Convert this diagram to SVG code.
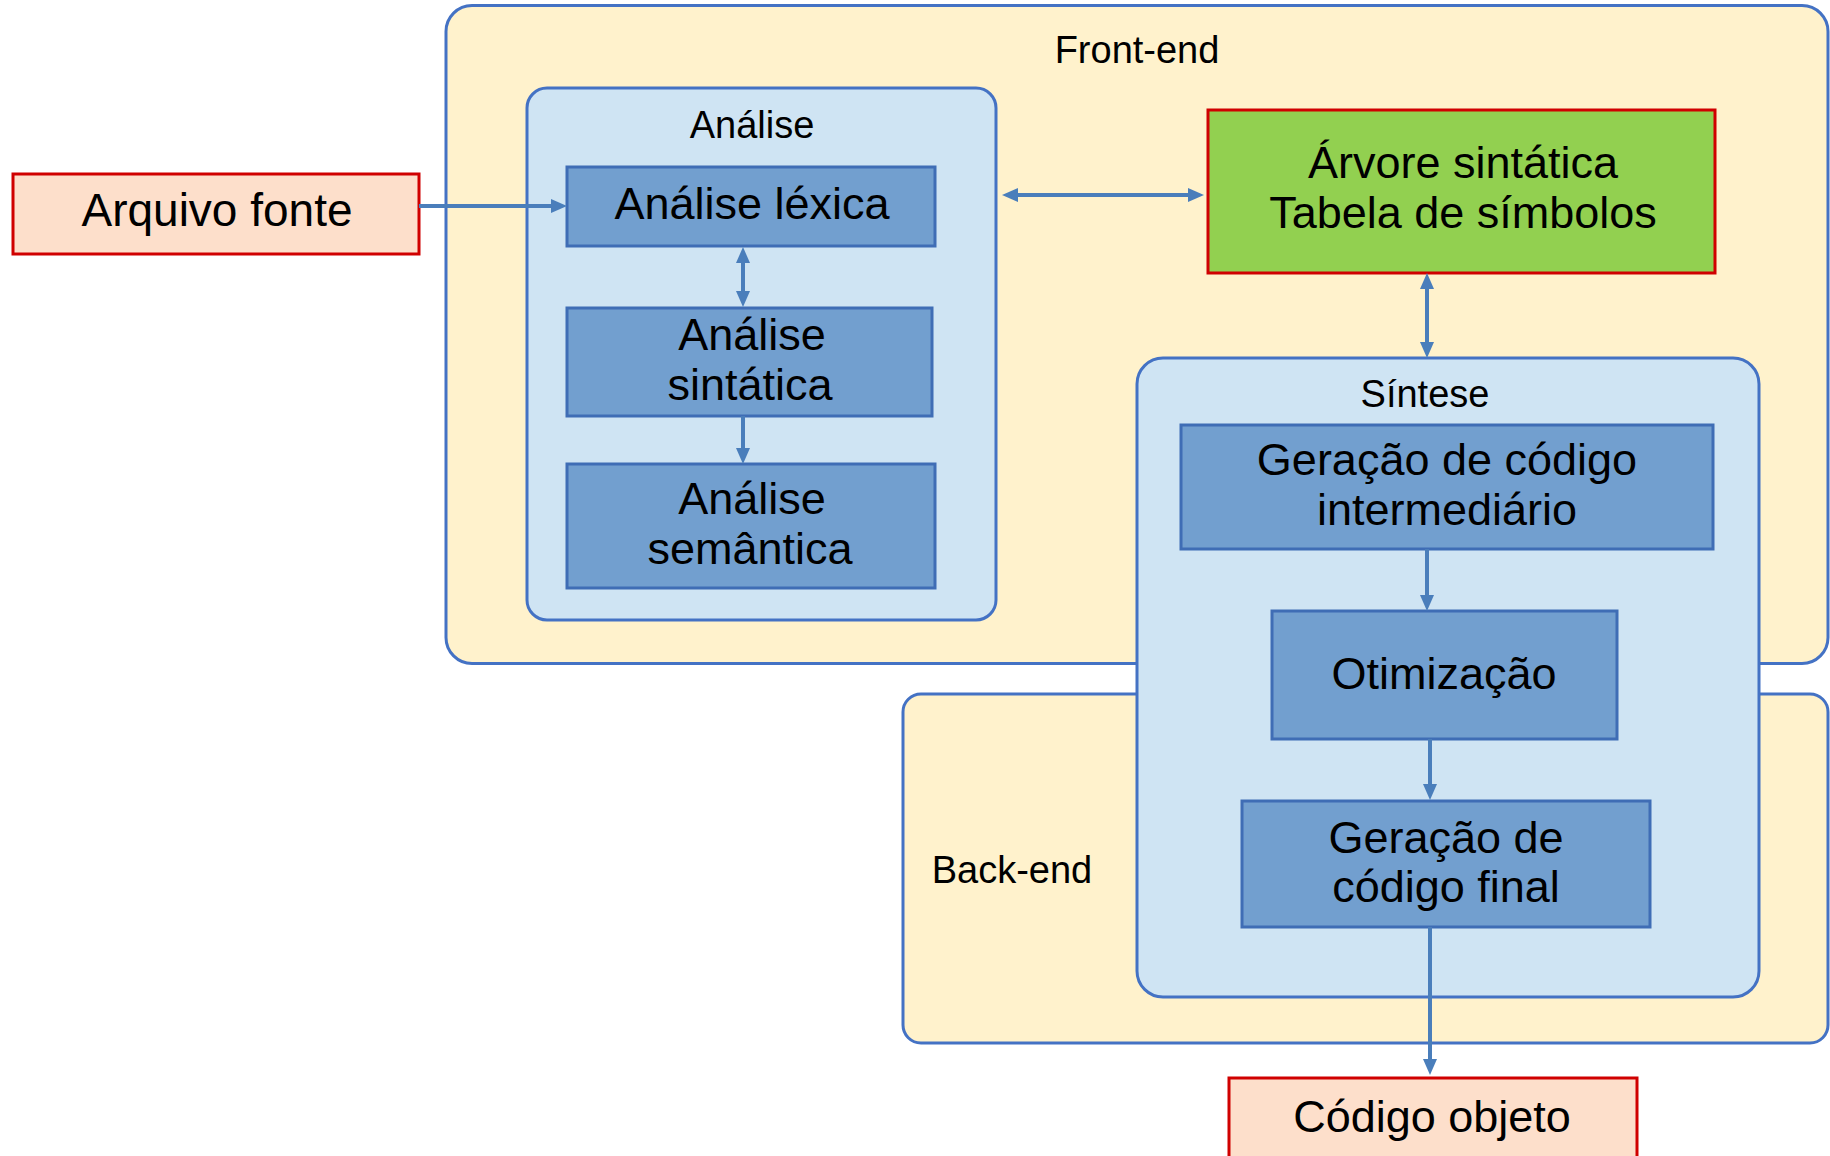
<svg xmlns="http://www.w3.org/2000/svg" width="1830" height="1156" viewBox="0 0 1830 1156">
<style>
.group{fill:#FFF2CC;stroke:#4472C4;stroke-width:3}
.sub{fill:#CFE4F3;stroke:#4472C4;stroke-width:3}
.step{fill:#729FCF;stroke:#3F6DB5;stroke-width:3}
.io{fill:#FDDFCB;stroke:#D00000;stroke-width:3}
.data{fill:#92D050;stroke:#D00000;stroke-width:3}
.lbl{font-family:"Liberation Sans",Arial,sans-serif;font-size:38px;fill:#000;text-anchor:middle}
.txt{font-family:"Liberation Sans",Arial,sans-serif;font-size:45px;fill:#000;text-anchor:middle}
.conn{stroke:#4A7EBB;stroke-width:4;fill:none}
</style>
<defs>
<marker id="ah" markerUnits="userSpaceOnUse" markerWidth="16" markerHeight="14" refX="6" refY="7" orient="auto-start-reverse" viewBox="0 0 16 14">
<path d="M0,0 L16,7 L0,14 z" fill="#4A7EBB"/>
</marker>
</defs>
<g id="front-end">
<rect class="group" x="446" y="5.5" width="1382" height="658" rx="26"/>
<text class="lbl" x="1137" y="63">Front-end</text>
</g>
<g id="back-end">
<rect class="group" x="903" y="694" width="925" height="349" rx="18"/>
<text class="lbl" x="1012" y="883">Back-end</text>
</g>
<g id="analise">
<rect class="sub" x="527" y="88" width="469" height="532" rx="20"/>
<text class="lbl" x="752" y="138">Análise</text>
</g>
<g id="sintese">
<rect class="sub" x="1137" y="358" width="622" height="639" rx="26"/>
<text class="lbl" x="1425" y="407">Síntese</text>
</g>
<g id="arquivo-fonte">
<rect class="io" x="13" y="174" width="406" height="80"/>
<text class="txt" x="217" y="226" style="font-size:46px">Arquivo fonte</text>
</g>
<g id="analise-lexica">
<rect class="step" x="567" y="167" width="368" height="79"/>
<text class="txt" x="752" y="219">Análise léxica</text>
</g>
<g id="analise-sintatica">
<rect class="step" x="567" y="308" width="365" height="108"/>
<text class="txt" x="752" y="350">Análise</text>
<text class="txt" x="750" y="400">sintática</text>
</g>
<g id="analise-semantica">
<rect class="step" x="567" y="464" width="368" height="124"/>
<text class="txt" x="752" y="514">Análise</text>
<text class="txt" x="750" y="564">semântica</text>
</g>
<g id="arvore-tabela">
<rect class="data" x="1208" y="110" width="507" height="163"/>
<text class="txt" x="1463" y="178">Árvore sintática</text>
<text class="txt" x="1463" y="228">Tabela de símbolos</text>
</g>
<g id="geracao-intermediario">
<rect class="step" x="1181" y="425" width="532" height="124"/>
<text class="txt" x="1447" y="475">Geração de código</text>
<text class="txt" x="1447" y="525">intermediário</text>
</g>
<g id="otimizacao">
<rect class="step" x="1272" y="611" width="345" height="128"/>
<text class="txt" x="1444" y="689">Otimização</text>
</g>
<g id="geracao-final">
<rect class="step" x="1242" y="801" width="408" height="126"/>
<text class="txt" x="1446" y="853">Geração de</text>
<text class="txt" x="1446" y="902">código final</text>
</g>
<g id="codigo-objeto">
<rect class="io" x="1229" y="1078" width="408" height="90"/>
<text class="txt" x="1432" y="1132">Código objeto</text>
</g>
<g id="connectors">
<line class="conn" x1="419" y1="206" x2="557" y2="206" marker-end="url(#ah)"/>
<line class="conn" x1="1012" y1="195" x2="1194" y2="195" marker-start="url(#ah)" marker-end="url(#ah)"/>
<line class="conn" x1="743" y1="257" x2="743" y2="297" marker-start="url(#ah)" marker-end="url(#ah)"/>
<line class="conn" x1="743" y1="416" x2="743" y2="454" marker-end="url(#ah)"/>
<line class="conn" x1="1427" y1="283" x2="1427" y2="348" marker-start="url(#ah)" marker-end="url(#ah)"/>
<line class="conn" x1="1427" y1="549" x2="1427" y2="601" marker-end="url(#ah)"/>
<line class="conn" x1="1430" y1="739" x2="1430" y2="790" marker-end="url(#ah)"/>
<line class="conn" x1="1430" y1="927" x2="1430" y2="1065" marker-end="url(#ah)"/>
</g>
</svg>
